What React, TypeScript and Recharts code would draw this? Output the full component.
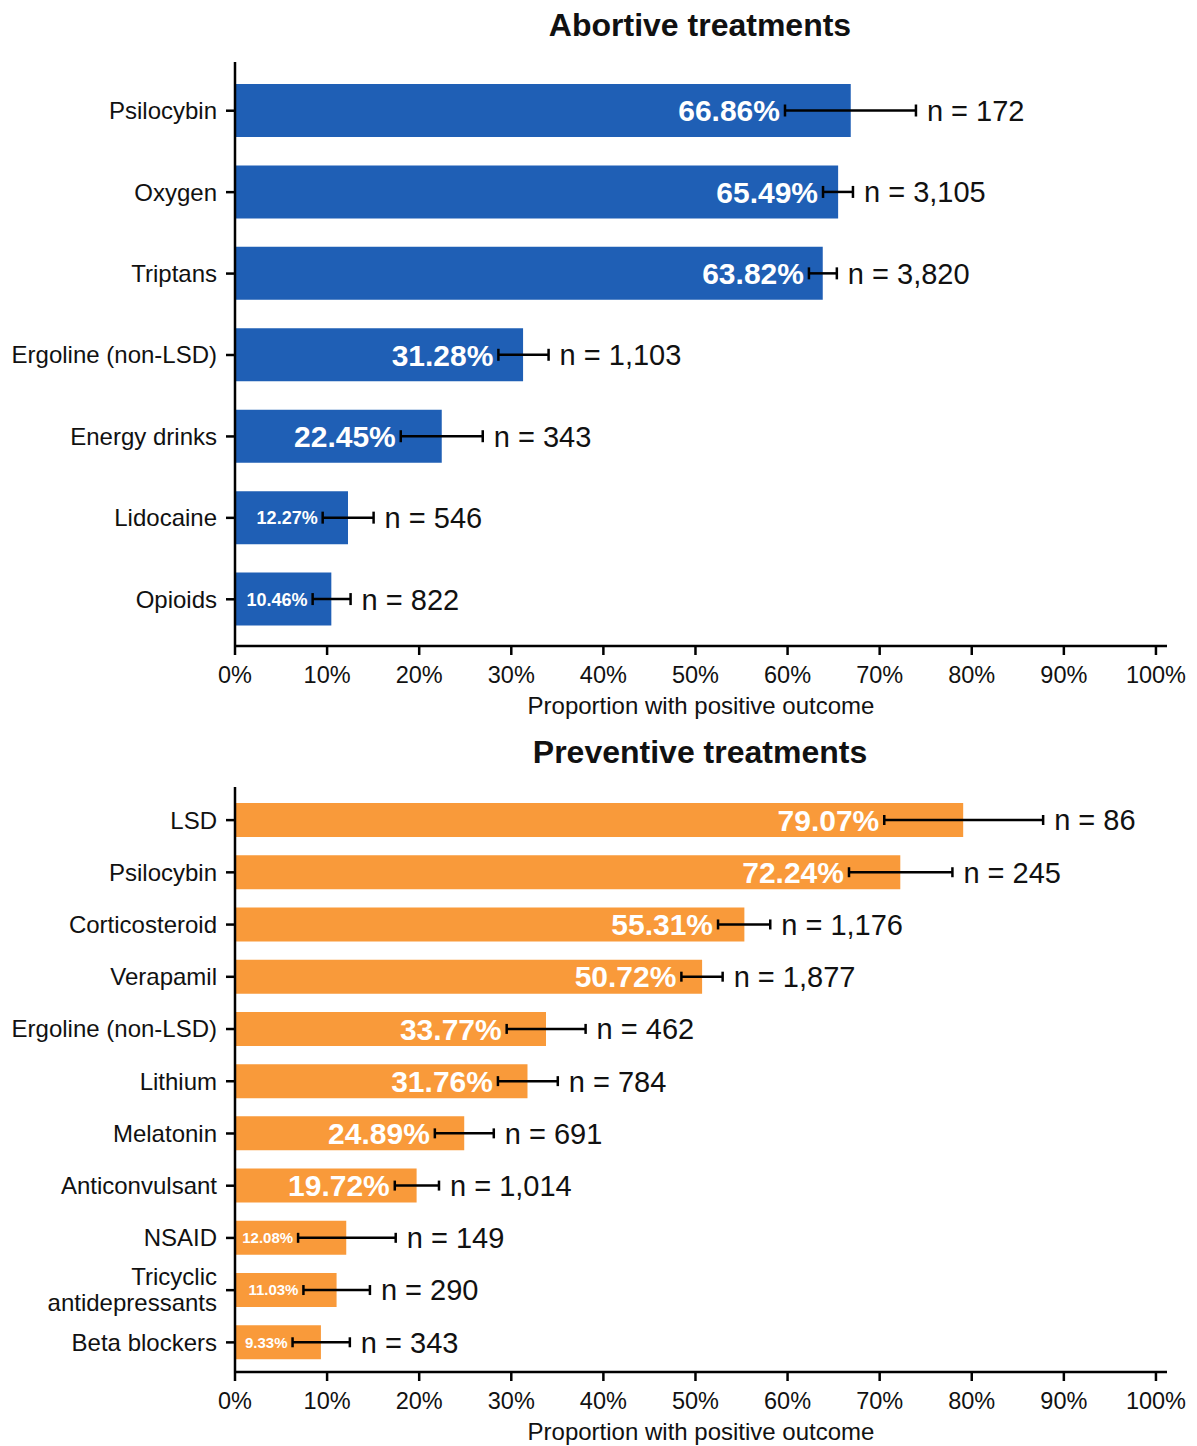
import { BarChart, Bar, XAxis, YAxis, ErrorBar, LabelList, Label } from 'recharts'

// Abortive treatments
const abortiveNames = ['Psilocybin', 'Oxygen', 'Triptans', 'Ergoline (non-LSD)', 'Energy drinks', 'Lidocaine', 'Opioids']
const abortivePct = [66.86, 65.49, 63.82, 31.28, 22.45, 12.27, 10.46]
const abortiveLo = [59.72, 63.85, 62.32, 28.6, 18.0, 9.52, 8.43]
const abortiveHi = [73.94, 67.1, 65.35, 34.05, 26.9, 15.05, 12.55]
const abortiveN = ['172', '3,105', '3,820', '1,103', '343', '546', '822']

// Preventive treatments
const preventiveNames = [
  'LSD', 'Psilocybin', 'Corticosteroid', 'Verapamil', 'Ergoline (non-LSD)', 'Lithium',
  'Melatonin', 'Anticonvulsant', 'NSAID', 'Tricyclic\nantidepressants', 'Beta blockers',
]
const preventivePct = [79.07, 72.24, 55.31, 50.72, 33.77, 31.76, 24.89, 19.72, 12.08, 11.03, 9.33]
const preventiveLo = [70.5, 66.67, 52.45, 48.47, 29.5, 28.55, 21.7, 17.35, 6.85, 7.43, 6.25]
const preventiveHi = [87.75, 77.9, 58.12, 52.95, 38.07, 35.05, 28.1, 22.15, 17.45, 14.65, 12.47]
const preventiveN = ['86', '245', '1,176', '1,877', '462', '784', '691', '1,014', '149', '290', '343']

const xTicks = [0, 10, 20, 30, 40, 50, 60, 70, 80, 90, 100]

const FONT = '"Liberation Sans", Arial, Helvetica, sans-serif'
const INK = '#111'

function CategoryTick({ x, y, payload }: any) {
  const lines = String(payload.value).split('\n')
  const first = 0.35 - (lines.length - 1) * 0.55
  return (
    <text x={x} y={y} textAnchor="end" fontSize={24} fill={INK} fontFamily={FONT}>
      {lines.map((l, i) => (
        <tspan key={i} x={x} dy={i === 0 ? `${first}em` : '1.08em'}>{l}</tspan>
      ))}
    </text>
  )
}

interface PanelProps {
  title: string
  names: string[]
  pct: number[]
  lo: number[]
  hi: number[]
  n: string[]
  color: string
  top: number
  height: number
  marginTop: number
  titleY: number
  barSize: number
  pad: { top: number; bottom: number }
  cap: number
  smallFont: number
}

function Panel({ title, names, pct, lo, hi, n, color, top, height, marginTop, titleY, barSize, pad, cap, smallFont }: PanelProps) {
  const rows = names.map((name, i) => ({
    name, pct: pct[i], err: [pct[i] - lo[i], hi[i] - pct[i]], idx: i,
  }))

  const renderLabels = (props: any) => {
    const i = Number(props.value)
    const x = Number(props.x), w = Number(props.width)
    const cy = Number(props.y) + Number(props.height) / 2
    const pxPer = w / pct[i]
    const big = pct[i] >= 15
    return (
      <g>
        <text x={x + lo[i] * pxPer - 5} y={cy} dy="0.36em" textAnchor="end" fill="#fff"
          fontWeight="bold" fontSize={big ? 30 : smallFont} fontFamily={FONT}>
          {`${pct[i].toFixed(2)}%`}
        </text>
        <text x={x + hi[i] * pxPer + 11} y={cy} dy="0.36em" textAnchor="start" fill={INK}
          fontSize={29} fontFamily={FONT}>
          {`n = ${n[i]}`}
        </text>
      </g>
    )
  }

  return (
    <div style={{ position: 'absolute', left: 0, top, width: 1197, height }}>
      <svg width={1197} height={60} style={{ position: 'absolute', left: 0, top: 0 }}>
        <text x={700} y={titleY} textAnchor="middle" fontWeight="bold" fontSize={32} fill={INK} fontFamily={FONT}>
          {title}
        </text>
      </svg>
      <BarChart width={1197} height={height} data={rows} layout="vertical"
        margin={{ top: marginTop, right: 30, left: 0, bottom: 0 }}>
        <XAxis type="number" domain={[0, 101.2]} ticks={xTicks} allowDataOverflow
          tickFormatter={(v) => `${v}%`} height={74}
          axisLine={{ stroke: '#000', strokeWidth: 2.5 }} tickLine={{ stroke: '#000', strokeWidth: 2.5 }}
          tickSize={9} tickMargin={11}
          tick={{ fontSize: 23.5, fill: INK, fontFamily: FONT }}>
          <Label value="Proportion with positive outcome" position="insideBottom" offset={6}
            style={{ fontSize: 24, fill: INK, fontFamily: FONT }} />
        </XAxis>
        <YAxis type="category" dataKey="name" width={235} interval={0} padding={pad}
          axisLine={{ stroke: '#000', strokeWidth: 2.5 }} tickLine={{ stroke: '#000', strokeWidth: 2.5 }}
          tickSize={9} tickMargin={9} tick={<CategoryTick />} />
        <Bar dataKey="pct" fill={color} barSize={barSize} isAnimationActive={false}>
          <ErrorBar dataKey="err" direction="x" width={cap} stroke="#000" strokeWidth={2.5} />
          <LabelList dataKey="idx" content={renderLabels} />
        </Bar>
      </BarChart>
    </div>
  )
}

export default function App() {
  return (
    <div style={{ position: 'absolute', left: 0, top: 0, width: 1197, height: 1446, background: '#fff' }}>
      <Panel title="Abortive treatments" names={abortiveNames} pct={abortivePct} lo={abortiveLo}
        hi={abortiveHi} n={abortiveN} color="#1f5fb5" top={0} height={720} marginTop={62} titleY={36}
        barSize={53} pad={{ top: 8, bottom: 6 }} cap={6} smallFont={18} />
      <Panel title="Preventive treatments" names={preventiveNames} pct={preventivePct} lo={preventiveLo}
        hi={preventiveHi} n={preventiveN} color="#f99a3a" top={720} height={726} marginTop={67} titleY={43}
        barSize={34} pad={{ top: 7, bottom: 3.5 }} cap={5} smallFont={15} />
    </div>
  )
}
